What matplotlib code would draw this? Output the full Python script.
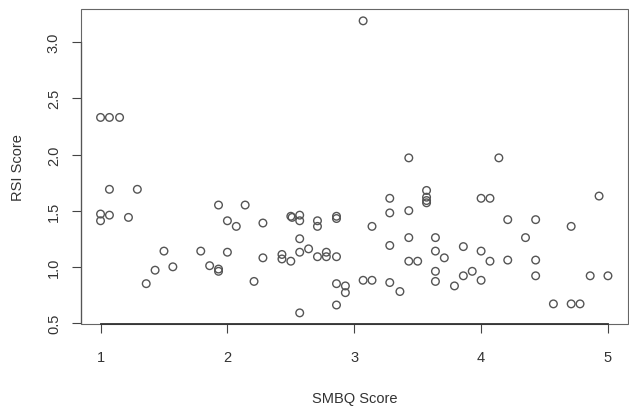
import matplotlib
matplotlib.use("Agg")
import matplotlib.pyplot as plt
from matplotlib.patches import Rectangle

plt.rcParams['font.family'] = ['Liberation Sans', 'DejaVu Sans']

# SMBQ score (x) and RSI score (y)
smbq = [1.00, 1.07, 1.15, 1.07, 1.29, 1.00, 1.00, 1.07, 1.22,
        1.36, 1.43, 1.50, 1.57, 1.79, 1.86, 1.93, 1.93, 1.93, 2.00,
        2.00, 2.07, 2.14, 2.21, 2.28, 2.28,
        2.43, 2.43, 2.50, 2.50, 2.51, 2.57, 2.57, 2.57, 2.57, 2.57,
        2.64, 2.71, 2.71, 2.71, 2.78, 2.78, 2.86, 2.86, 2.86, 2.86, 2.86,
        2.93, 2.93, 3.07, 3.07, 3.14, 3.14,
        3.28, 3.28, 3.28, 3.28, 3.36, 3.43, 3.43, 3.43, 3.43, 3.50,
        3.57, 3.57, 3.57, 3.57, 3.64, 3.64, 3.64, 3.64, 3.71, 3.79,
        3.86, 3.86, 3.93, 4.00, 4.00, 4.00, 4.07, 4.07, 4.14,
        4.21, 4.21, 4.35, 4.43, 4.43, 4.43, 4.57, 4.71, 4.71, 4.78,
        4.86, 4.93, 5.00]
rsi = [2.33, 2.33, 2.33, 1.69, 1.69, 1.47, 1.41, 1.46, 1.44,
       0.85, 0.97, 1.14, 1.00, 1.14, 1.01, 1.55, 0.98, 0.96, 1.13,
       1.41, 1.36, 1.55, 0.87, 1.39, 1.08,
       1.11, 1.07, 1.45, 1.05, 1.44, 1.46, 1.41, 1.25, 1.13, 0.59,
       1.16, 1.09, 1.41, 1.36, 1.13, 1.09, 1.45, 1.43, 1.09, 0.85, 0.66,
       0.83, 0.77, 0.88, 3.19, 0.88, 1.36,
       1.61, 1.48, 1.19, 0.86, 0.78, 1.97, 1.50, 1.26, 1.05, 1.05,
       1.68, 1.62, 1.59, 1.57, 1.26, 1.14, 0.96, 0.87, 1.08, 0.83,
       1.18, 0.92, 0.96, 1.61, 1.14, 0.88, 1.61, 1.05, 1.97,
       1.42, 1.06, 1.26, 1.42, 1.06, 0.92, 0.67, 1.36, 0.67, 0.67,
       0.92, 1.63, 0.92]

x_ticks = [1, 2, 3, 4, 5]
y_ticks = [0.5, 1.0, 1.5, 2.0, 2.5, 3.0]

fig = plt.figure(figsize=(6.29, 4.14), dpi=100)
ax = fig.add_axes([0.1288, 0.215, 0.8696, 0.761])

ax.scatter(smbq, rsi, s=30, facecolors='none', edgecolors='#555555', linewidths=1.0)

ax.set_xlim(0.846, 5.158)
ax.set_ylim(0.491, 3.296)

ax.set_xticks(x_ticks)
ax.set_xticklabels([str(t) for t in x_ticks])
ax.set_yticks(y_ticks)
ax.set_yticklabels(['%.1f' % t for t in y_ticks], rotation=90, va='center')

ax.tick_params(direction='out', length=6.5, width=0.8, colors='#444444',
               labelcolor='#333333', labelsize=10.5)
ax.tick_params(axis='x', pad=12)
ax.tick_params(axis='y', pad=8)

# R style: thin box plus axis lines spanning the tick range
for s in ax.spines.values():
    s.set_visible(False)
ax.add_patch(Rectangle((0, 0), 1, 1, transform=ax.transAxes, fill=False,
                       edgecolor='#666666', linewidth=0.8, clip_on=False))
ax.spines['bottom'].set_visible(True)
ax.spines['bottom'].set_bounds(x_ticks[0], x_ticks[-1])
ax.spines['bottom'].set_color('#333333')
ax.spines['bottom'].set_linewidth(1.3)
ax.spines['left'].set_visible(True)
ax.spines['left'].set_bounds(y_ticks[0], y_ticks[-1])
ax.spines['left'].set_color('#555555')
ax.spines['left'].set_linewidth(0.9)

ax.set_xlabel('SMBQ Score', fontsize=10.5, color='#333333', labelpad=20)
ax.set_ylabel('RSI Score', fontsize=10.5, color='#333333', labelpad=16)

fig.savefig('out.png', dpi=100)
